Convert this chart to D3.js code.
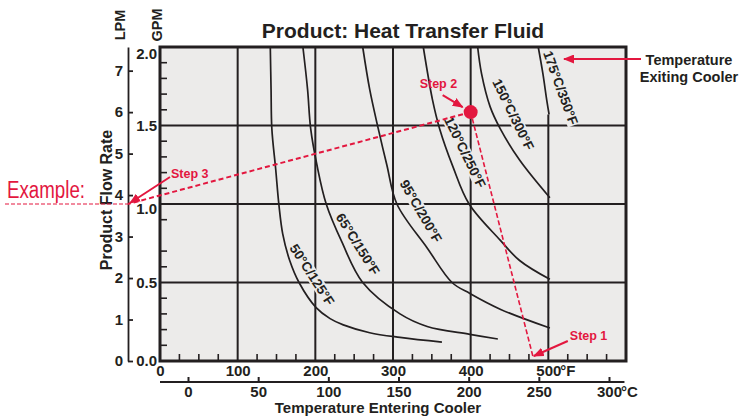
<!DOCTYPE html>
<html>
<head>
<meta charset="utf-8">
<script src="https://cdn.jsdelivr.net/npm/d3@7"></script>
<style>
body { margin: 0; background: #fff; }
svg { display: block; font-family: "Liberation Sans", Arial, Helvetica, sans-serif; }
</style>
</head>
<body>
<svg id="chart" width="741" height="420"></svg>
<script>
// values
var LPM_PER_GPM = 3.785;

var fTicks = [0, 100, 200, 300, 400, 500];
var cTicks = [0, 50, 100, 150, 200, 250, 300];
var gpmTicks = [0, 0.5, 1.0, 1.5, 2.0];
var gpmMinor = [0.1, 0.2, 0.3, 0.4, 0.6, 0.7, 0.9, 1.1, 1.2, 1.3, 1.4, 1.6, 1.7, 1.8, 1.9];
var lpmTicks = [0, 1, 2, 3, 4, 5, 6, 7];

var curveNames = ["50°C/125°F", "65°C/150°F", "95°C/200°F", "120°C/250°F", "150°C/300°F", "175°C/350°F"];

// [temperature entering (°F), product flow (GPM)]
var curve50 = [[142, 2.0], [143, 1.73], [144, 1.48], [149, 1.22], [153, 1.0], [158, 0.81], [167, 0.64],
               [179, 0.50], [201, 0.34], [219, 0.27], [236, 0.23], [270, 0.18], [309, 0.15], [363, 0.12]];
var curve65 = [[184, 2.0], [190, 1.73], [194, 1.48], [202, 1.25], [214, 1.0], [234, 0.76], [261, 0.50],
               [309, 0.30], [344, 0.22], [399, 0.17], [435, 0.14]];
var curve95 = [[261, 2.0], [270, 1.73], [281, 1.48], [292, 1.25], [305, 1.0], [344, 0.72], [376, 0.50],
               [399, 0.43], [438, 0.33], [502, 0.21]];
var curve120 = [[339, 2.0], [351, 1.66], [360, 1.48], [377, 1.24], [398, 1.0], [438, 0.77], [463, 0.64], [502, 0.52]];
var curve150 = [[409, 2.0], [414, 1.83], [425, 1.62], [438, 1.48], [463, 1.28], [502, 1.04]];
var curve175 = [[487, 2.0], [493, 1.83], [498, 1.66], [501, 1.57]];
var curves = [curve50, curve65, curve95, curve120, curve150, curve175];

// label centre of each curve [°F, GPM] and its slant
var labelSpots = [[196, 0.55], [255, 0.745], [336, 0.955], [393, 1.33], [455, 1.57], [516, 1.74]];
var labelAngles = [57, 58, 60, 64, 64, 70];

// worked example
var stepInletF = 480;                     // step 1
var stepPoint = [400, 6 / LPM_PER_GPM];   // step 2, 6 LPM
var stepReadGPM = 1.0;                    // step 3

var svg = d3.select("#chart");
var ink = "#231f20", red = "#e3173f", paper = "#ecebea";

var x = d3.scaleLinear().domain([0, 600]).range([160, 626]);
var xc = d3.scaleLinear().domain([0, 300]).range([188, 609]);
var y = d3.scaleLinear().domain([0, 2]).range([361, 47]);
var yl = d3.scaleLinear().domain([0, 2 * LPM_PER_GPM]).range([361, 47]);

var defs = svg.append("defs");
defs.append("marker")
    .attr("id", "head")
    .attr("markerUnits", "userSpaceOnUse")
    .attr("markerWidth", 11).attr("markerHeight", 9)
    .attr("refX", 10).attr("refY", 4.5)
    .attr("orient", "auto")
  .append("path")
    .attr("d", "M0,0 L11,4.5 L0,9 Z")
    .attr("fill", red);

// plot background
svg.append("rect")
    .attr("x", x(0)).attr("y", y(2))
    .attr("width", x(600) - x(0)).attr("height", y(0) - y(2))
    .attr("fill", paper);

// grid (the 500°F line carries on from the end of the hottest curve)
var top175 = y(curve175[curve175.length - 1][1]);
var grid = svg.append("g").attr("stroke", ink).attr("stroke-width", 2);
grid.selectAll(".vg").data(fTicks.slice(1)).enter().append("line")
    .attr("x1", function(d) { return x(d); }).attr("x2", function(d) { return x(d); })
    .attr("y1", function(d) { return d === 500 ? top175 : y(2); }).attr("y2", y(0));
grid.selectAll(".hg").data(gpmTicks.slice(1, -1)).enter().append("line")
    .attr("x1", x(0)).attr("x2", x(600))
    .attr("y1", function(d) { return y(d); }).attr("y2", function(d) { return y(d); });

// small inside ticks
var minor = svg.append("g").attr("stroke", ink).attr("stroke-width", 1.6);
minor.selectAll(".mx").data(d3.range(25, 600, 25).filter(function(d) { return d % 100; }))
  .enter().append("line")
    .attr("x1", function(d) { return x(d); }).attr("x2", function(d) { return x(d); })
    .attr("y1", y(0)).attr("y2", y(0) - 7);
minor.selectAll(".my").data(gpmMinor).enter().append("line")
    .attr("x1", x(0)).attr("x2", x(0) + 7)
    .attr("y1", function(d) { return y(d); }).attr("y2", function(d) { return y(d); });

// curve labels, with a knock-out box behind them
var labels = svg.append("g");
curveNames.forEach(function(name, i) {
    var g = labels.append("g")
        .attr("transform", "translate(" + x(labelSpots[i][0]) + "," + y(labelSpots[i][1]) + ") rotate(" + labelAngles[i] + ")");
    var t = g.append("text")
        .attr("text-anchor", "middle")
        .attr("dy", "0.36em")
        .attr("font-size", 13.5)
        .attr("font-weight", "bold")
        .attr("fill", ink)
        .text(name);
    var b = t.node().getBBox();
    g.insert("rect", "text")
        .attr("x", b.x - 1).attr("y", b.y + 1)
        .attr("width", b.width + 2).attr("height", b.height - 2)
        .attr("fill", paper);
});

// curves
var line = d3.line()
    .x(function(d) { return x(d[0]); })
    .y(function(d) { return y(d[1]); })
    .curve(d3.curveCatmullRom.alpha(0.5));

svg.append("g").selectAll("path").data(curves).enter().append("path")
    .attr("d", line)
    .attr("fill", "none")
    .attr("stroke", ink)
    .attr("stroke-width", 1.7);

// frame
svg.append("rect")
    .attr("x", x(0)).attr("y", y(2))
    .attr("width", x(600) - x(0)).attr("height", y(0) - y(2))
    .attr("fill", "none").attr("stroke", ink).attr("stroke-width", 3);

function styleAxis(g) {
    g.attr("font-family", null).attr("font-size", 15).attr("font-weight", "bold");
    g.selectAll("text").attr("fill", ink);
    g.selectAll("line").attr("stroke", ink).attr("stroke-width", 2);
}

// °F axis
var fAxis = svg.append("g")
    .attr("transform", "translate(0," + y(0) + ")")
    .call(d3.axisBottom(x).tickValues(fTicks).tickSize(0).tickPadding(4).tickFormat(d3.format("d")));
fAxis.select(".domain").remove();
styleAxis(fAxis);
fAxis.append("text")
    .attr("x", x(500) + 12).attr("y", 4).attr("dy", "0.71em")
    .attr("text-anchor", "start").attr("fill", ink)
    .text("°F");

// °C axis
svg.append("line")
    .attr("x1", x(0)).attr("x2", x(598))
    .attr("y1", 382).attr("y2", 382)
    .attr("stroke", ink).attr("stroke-width", 2);
var cAxis = svg.append("g")
    .attr("transform", "translate(0,382)")
    .call(d3.axisBottom(xc).tickValues(cTicks).tickSize(-5).tickSizeOuter(0).tickPadding(4));
cAxis.select(".domain").remove();
styleAxis(cAxis);
cAxis.append("text")
    .attr("x", xc(300) + 12).attr("y", 4).attr("dy", "0.71em")
    .attr("text-anchor", "start").attr("fill", ink)
    .text("°C");

// GPM axis
var gAxis = svg.append("g")
    .attr("transform", "translate(" + x(0) + ",0)")
    .call(d3.axisLeft(y).tickValues(gpmTicks).tickSize(0).tickPadding(3).tickFormat(d3.format(".1f")));
gAxis.select(".domain").remove();
styleAxis(gAxis);
gAxis.selectAll(".tick text")
    .filter(function(d) { return d === 2 || d === 1; })
    .attr("dy", "0.71em")
    .attr("y", function(d) { return d === 2 ? 1 : -1; });

// LPM axis
var lAxis = svg.append("g")
    .attr("transform", "translate(128,0)")
    .call(d3.axisRight(yl).tickValues(lpmTicks).tickSize(5).tickSizeOuter(0));
styleAxis(lAxis);
lAxis.select(".domain").attr("stroke", ink).attr("stroke-width", 1.8);
lAxis.selectAll(".tick line").attr("stroke-width", 1.8);
lAxis.selectAll("text").attr("x", -5).attr("text-anchor", "end");

// titles
svg.append("text")
    .attr("x", 403).attr("y", 38)
    .attr("text-anchor", "middle")
    .attr("font-size", 21).attr("font-weight", "bold").attr("fill", ink)
    .text("Product: Heat Transfer Fluid");

svg.append("text")
    .attr("transform", "translate(112,200) rotate(-90)")
    .attr("text-anchor", "middle")
    .attr("font-size", 16).attr("font-weight", "bold").attr("fill", ink)
    .text("Product Flow Rate");

[["LPM", 125], ["GPM", 162]].forEach(function(u) {
    svg.append("text")
        .attr("transform", "translate(" + u[1] + ",25) rotate(-90)")
        .attr("text-anchor", "middle")
        .attr("font-size", 14.5).attr("font-weight", "bold").attr("fill", ink)
        .text(u[0]);
});

svg.append("text")
    .attr("x", 378).attr("y", 413)
    .attr("text-anchor", "middle")
    .attr("font-size", 15).attr("font-weight", "bold").attr("fill", ink)
    .text("Temperature Entering Cooler");

var exitLabel = svg.append("text")
    .attr("text-anchor", "middle")
    .attr("font-size", 14.5).attr("font-weight", "bold").attr("fill", ink);
exitLabel.append("tspan").attr("x", 689).attr("y", 65).text("Temperature");
exitLabel.append("tspan").attr("x", 689).attr("y", 82).text("Exiting Cooler");

// worked example in red
var ex = svg.append("g").attr("fill", red).attr("stroke", red);

function arrow(x1, y1, x2, y2) {
    ex.append("line")
        .attr("x1", x1).attr("y1", y1).attr("x2", x2).attr("y2", y2)
        .attr("stroke-width", 2)
        .attr("marker-end", "url(#head)");
}
function note(tx, ty, s) {
    ex.append("text")
        .attr("x", tx).attr("y", ty)
        .attr("stroke", "none")
        .attr("font-size", 12.5).attr("font-weight", "bold")
        .text(s);
}

var px = x(stepPoint[0]), py = y(stepPoint[1]);
var s1x = x(stepInletF), s1y = y(0) - 5;
var s3x = 128, s3y = y(stepReadGPM);

ex.append("line")
    .attr("x1", s1x).attr("y1", s1y).attr("x2", px).attr("y2", py)
    .attr("fill", "none").attr("stroke-width", 1.6).attr("stroke-dasharray", "5,2.5");
ex.append("line")
    .attr("x1", px).attr("y1", py).attr("x2", s3x).attr("y2", s3y)
    .attr("fill", "none").attr("stroke-width", 2).attr("stroke-dasharray", "5,3");
ex.append("circle")
    .attr("cx", px).attr("cy", py).attr("r", 7)
    .attr("stroke", "none");

arrow(s1x + 35, s1y - 15, s1x + 1, s1y);
note(s1x + 37, s1y - 16, "Step 1");

arrow(px - 28, py - 17, px - 8, py - 5);
note(px - 51, py - 24, "Step 2");

arrow(s3x + 42, s3y - 27, s3x + 2, s3y - 1);
note(s3x + 43, s3y - 26, "Step 3");

arrow(641, 59, 564, 59);

ex.append("line")
    .attr("x1", 5).attr("x2", s3x).attr("y1", s3y).attr("y2", s3y)
    .attr("stroke-width", 1.2).attr("stroke-dasharray", "4,2");
ex.append("text")
    .attr("x", 7).attr("y", 198)
    .attr("stroke", "none")
    .attr("font-size", 23)
    .attr("textLength", 78).attr("lengthAdjust", "spacingAndGlyphs")
    .text("Example:");
</script>
</body>
</html>
